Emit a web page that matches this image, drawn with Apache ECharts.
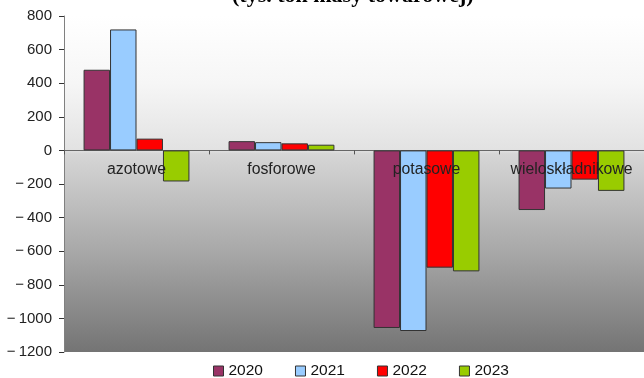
<!DOCTYPE html>
<html>
<head>
<meta charset="utf-8">
<script src="https://cdn.jsdelivr.net/npm/echarts@6/dist/echarts.min.js"></script>
<style>
  html, body { margin: 0; padding: 0; background: #ffffff; }
  #chart { width: 644px; height: 378px; }
</style>
</head>
<body>
<div id="chart"></div>
<script>
// Saldo handlu nawozami według rodzaju (tys. ton masy towarowej)
const categories = ['azotowe', 'fosforowe', 'potasowe', 'wieloskładnikowe'];
const years = ['2020', '2021', '2022', '2023'];
const values2020 = [480, 55, -1057, -355];
const values2021 = [720, 49, -1075, -227];
const values2022 = [70, 42, -698, -174];
const values2023 = [-185, 34, -720, -241];
const yTicks = { min: -1200, max: 800, step: 200 };

const seriesValues = [values2020, values2021, values2022, values2023];
const colors = ['#993366', '#99ccff', '#ff0000', '#99cc00'];

const gridTop = 16;
const gridHeight = 336;
// distance from the bottom edge of the plot up to the zero line
const zeroFromBottom = gridHeight * (0 - yTicks.min) / (yTicks.max - yTicks.min);

const labelFont = '"Liberation Sans", Arial, sans-serif';

const chart = echarts.init(document.getElementById('chart'), null, { renderer: 'canvas' });

chart.setOption({
  animation: false,
  backgroundColor: '#ffffff',
  title: {
    text: '(tys. ton masy towarowej)',
    left: 232,
    top: -15,
    padding: 0,
    textStyle: {
      fontFamily: '"Liberation Serif", "Times New Roman", serif',
      fontWeight: 'bold',
      fontSize: 22,
      color: '#000000'
    }
  },
  legend: {
    data: years,
    top: 361,
    left: 211,
    padding: 2,
    itemWidth: 10,
    itemHeight: 10,
    itemGap: 32,
    icon: 'rect',
    itemStyle: { borderColor: '#333333', borderWidth: 1 },
    textStyle: {
      fontFamily: labelFont,
      fontSize: 15.5,
      color: '#111111'
    }
  },
  grid: {
    left: 64,
    top: gridTop,
    width: 584,
    height: gridHeight,
    show: true,
    borderWidth: 0,
    backgroundColor: new echarts.graphic.LinearGradient(0, 0, 0, 1, [
      { offset: 0, color: '#ffffff' },
      { offset: 0.2, color: '#f6f6f6' },
      { offset: 0.4, color: '#e2e2e2' },
      { offset: 0.41, color: '#d6d6d6' },
      { offset: 0.7, color: '#a8a8a8' },
      { offset: 1, color: '#747474' }
    ])
  },
  xAxis: [
    {
      // zero line with category ticks
      type: 'category',
      data: categories,
      axisLine: { onZero: true, lineStyle: { color: '#666666', width: 1 } },
      axisTick: { show: true, length: 4, lineStyle: { color: '#555555' } },
      axisLabel: { show: false },
      splitLine: { show: false }
    },
    {
      // category names sitting just under the zero line, drawn over the bars
      type: 'category',
      data: categories,
      position: 'bottom',
      offset: -zeroFromBottom,
      z: 10,
      axisLine: { show: false, onZero: false },
      axisTick: { show: false },
      axisLabel: {
        margin: 11,
        fontFamily: labelFont,
        fontSize: 15.8,
        color: '#222222',
        interval: 0,
        hideOverlap: false
      },
      splitLine: { show: false }
    }
  ],
  yAxis: {
    type: 'value',
    min: yTicks.min,
    max: yTicks.max,
    interval: yTicks.step,
    axisLine: { show: true, lineStyle: { color: '#808080', width: 1 } },
    axisTick: { show: true, length: 5, lineStyle: { color: '#333333' } },
    axisLabel: {
      margin: 12,
      fontFamily: labelFont,
      fontSize: 15,
      color: '#222222',
      // wide minus sign with a thin gap before the digits
      formatter: (v) => (v < 0 ? '\u2212\u2009' + Math.abs(v) : String(v))
    },
    splitLine: { show: false }
  },
  series: years.map((y, i) => ({
    name: y,
    type: 'bar',
    xAxisIndex: 0,
    data: seriesValues[i],
    barGap: '0%',
    barCategoryGap: '27%',
    itemStyle: { color: colors[i], borderColor: '#333333', borderWidth: 1 },
    z: 1
  }))
});
</script>
</body>
</html>
